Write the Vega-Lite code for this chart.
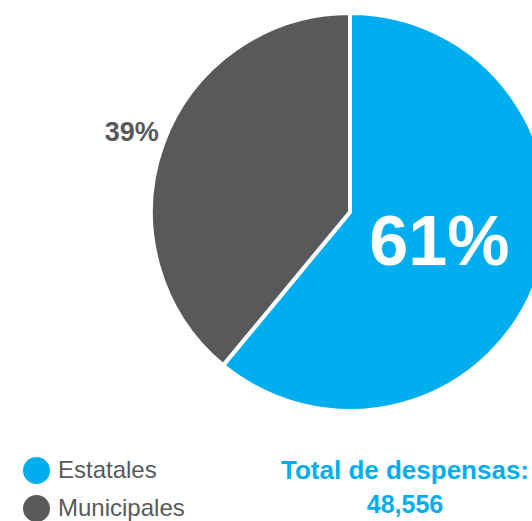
{
  "$schema": "https://vega.github.io/schema/vega-lite/v6.json",
  "width": 364,
  "height": 424,
  "autosize": {"type": "none"},
  "padding": {"left": 168, "top": 0, "right": 0, "bottom": 97},
  "background": "white",
  "config": {"view": {"stroke": null}},
  "data": {"values": [
    {"tipo": "Estatales", "pct": 61, "label": "61%", "orden": 1},
    {"tipo": "Municipales", "pct": 39, "label": "39%", "orden": 2}
  ]},
  "title": {
    "text": "Total de despensas:",
    "subtitle": "48,556",
    "orient": "top",
    "anchor": "middle",
    "dx": 55,
    "offset": -518,
    "subtitlePadding": 9,
    "color": "#00AEEF",
    "subtitleColor": "#00AEEF",
    "font": "Liberation Sans",
    "subtitleFont": "Liberation Sans",
    "fontSize": 26,
    "subtitleFontSize": 25,
    "fontWeight": "bold",
    "subtitleFontWeight": "bold"
  },
  "encoding": {
    "theta": {"field": "pct", "type": "quantitative", "stack": true},
    "order": {"field": "orden", "type": "quantitative"}
  },
  "layer": [
    {
      "mark": {"type": "arc", "outerRadius": 199, "stroke": "white", "strokeWidth": 4},
      "encoding": {
        "color": {
          "field": "tipo",
          "type": "nominal",
          "scale": {"domain": ["Estatales", "Municipales"], "range": ["#00AEEF", "#58595B"]},
          "legend": {
            "orient": "none",
            "legendX": -145,
            "legendY": 457,
            "title": null,
            "padding": 0,
            "symbolType": "circle",
            "symbolSize": 729,
            "symbolStrokeWidth": 0,
            "symbolOpacity": 1,
            "labelFont": "Liberation Sans",
            "labelFontSize": 24,
            "labelColor": "#58595B",
            "labelOffset": 8,
            "rowPadding": 11
          }
        }
      }
    },
    {
      "mark": {"type": "text", "radius": 95, "fontSize": 70, "fontWeight": "bold", "font": "Liberation Sans", "color": "white", "baseline": "middle", "align": "center"},
      "encoding": {
        "text": {"condition": {"test": "datum.tipo === 'Estatales'", "field": "label"}, "value": ""}
      }
    },
    {
      "mark": {"type": "text", "radius": 232, "fontSize": 27, "fontWeight": "bold", "font": "Liberation Sans", "color": "#58595B", "baseline": "middle", "align": "center"},
      "encoding": {
        "text": {"condition": {"test": "datum.tipo === 'Municipales'", "field": "label"}, "value": ""}
      }
    }
  ]
}
